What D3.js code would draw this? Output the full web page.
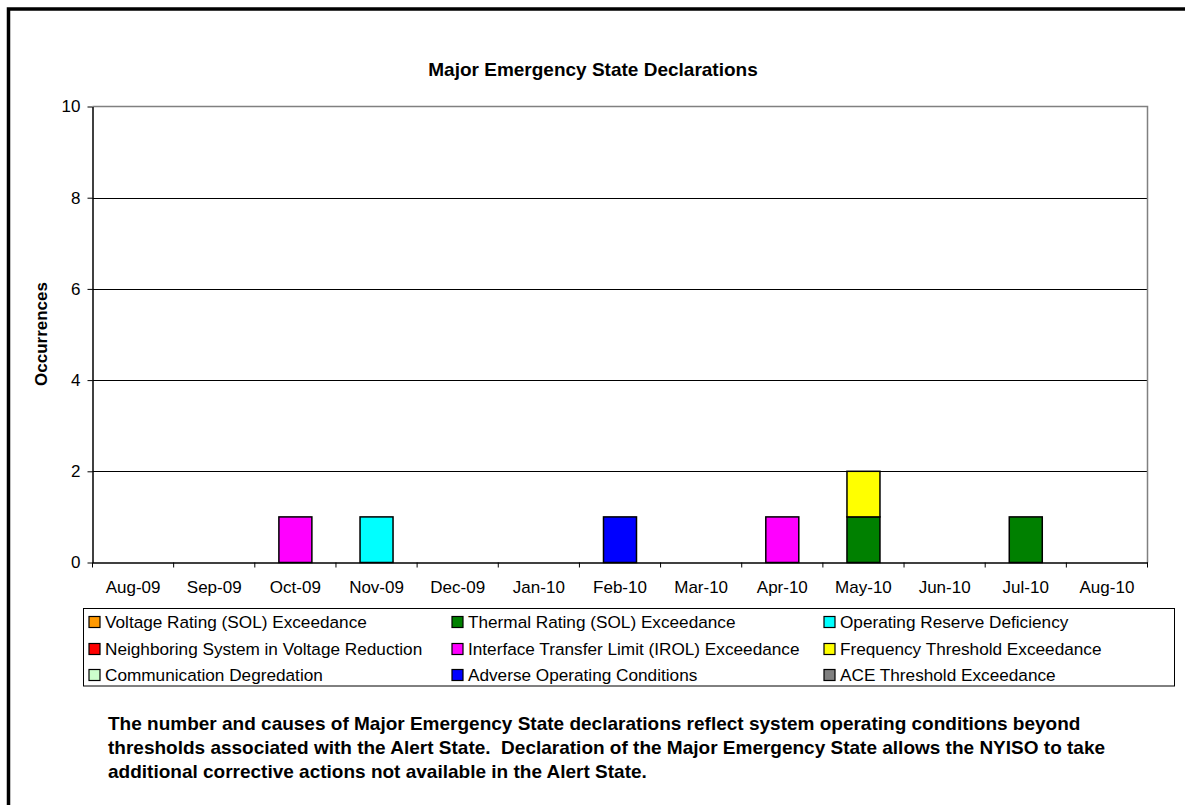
<!DOCTYPE html>
<html>
<head>
<meta charset="utf-8">
<script src="https://cdn.jsdelivr.net/npm/d3@7"></script>
<style>
  body { margin: 0; background: #fff; }
  text { font-family: "Liberation Sans", Arial, sans-serif; }
</style>
</head>
<body>
<div id="chart"></div>
<script>
// months on the x axis
var months = ["Aug-09","Sep-09","Oct-09","Nov-09","Dec-09","Jan-10","Feb-10",
              "Mar-10","Apr-10","May-10","Jun-10","Jul-10","Aug-10"];

// causes, in legend order
var causes = ["Voltage Rating (SOL) Exceedance","Thermal Rating (SOL) Exceedance","Operating Reserve Deficiency",
              "Neighboring System in Voltage Reduction","Interface Transfer Limit (IROL) Exceedance","Frequency Threshold Exceedance",
              "Communication Degredation","Adverse Operating Conditions","ACE Threshold Exceedance"];
var colors = ["#FF9900","#008000","#00FFFF","#FF0000","#FF00FF","#FFFF00","#CCFFCC","#0000FF","#808080"];

// occurrences per month for each cause
var voltage      = [0,0,0,0,0,0,0,0,0,0,0,0,0];
var thermal      = [0,0,0,0,0,0,0,0,0,1,0,1,0];
var opReserve    = [0,0,0,1,0,0,0,0,0,0,0,0,0];
var neighboring  = [0,0,0,0,0,0,0,0,0,0,0,0,0];
var irol         = [0,0,1,0,0,0,0,0,1,0,0,0,0];
var frequency    = [0,0,0,0,0,0,0,0,0,1,0,0,0];
var communication= [0,0,0,0,0,0,0,0,0,0,0,0,0];
var adverse      = [0,0,0,0,0,0,1,0,0,0,0,0,0];
var ace          = [0,0,0,0,0,0,0,0,0,0,0,0,0];
var series = [voltage,thermal,opReserve,neighboring,irol,frequency,communication,adverse,ace];

var yTicks = [0,2,4,6,8,10];

(function(){
  var width = 1185, height = 805;
  var pLeft = 92.5, pRight = 1147.5, pTop = 106.5, pBottom = 562.5;

  var svg = d3.select("#chart").append("svg")
    .attr("width", width)
    .attr("height", height);

  // outer frame
  svg.append("rect")
    .attr("x", 8.5).attr("y", 9)
    .attr("width", width + 20).attr("height", height + 20)
    .attr("fill", "none").attr("stroke", "#000").attr("stroke-width", 3.5);

  svg.append("text")
    .attr("x", 593).attr("y", 76)
    .attr("text-anchor", "middle")
    .style("font-size", "19px").style("font-weight", "bold")
    .text("Major Emergency State Declarations");

  var x = d3.scaleBand().domain(months).range([pLeft, pRight]).paddingInner(0).paddingOuter(0);
  var y = d3.scaleLinear().domain([0, 10]).range([pBottom, pTop]);

  // table for stacking
  var table = months.map(function(m, i){
    var row = {month: m};
    causes.forEach(function(c, j){ row[c] = series[j][i]; });
    return row;
  });
  var stacked = d3.stack().keys(causes)(table);

  // gridlines
  svg.append("g").selectAll("line")
    .data(yTicks.filter(function(d){ return d > 0 && d < 10; }))
    .enter().append("line")
    .attr("x1", pLeft).attr("x2", pRight)
    .attr("y1", function(d){ return Math.round(y(d)) + 0.5; })
    .attr("y2", function(d){ return Math.round(y(d)) + 0.5; })
    .attr("stroke", "#000").attr("stroke-width", 1);

  // plot area border top/right (gray)
  svg.append("path")
    .attr("d", "M" + pLeft + "," + y(10) + "H" + pRight + "V" + y(0))
    .attr("fill", "none").attr("stroke", "#808080").attr("stroke-width", 1.5);

  // bars
  var barW = 33;
  svg.append("g").selectAll("g")
    .data(stacked)
    .enter().append("g")
    .attr("fill", function(d, i){ return colors[i]; })
    .selectAll("rect")
    .data(function(d){ return d.filter(function(p){ return p[1] - p[0] > 0; }); })
    .enter().append("rect")
    .attr("x", function(d){ return x(d.data.month) + x.bandwidth() / 2 - barW / 2; })
    .attr("y", function(d){ return y(d[1]); })
    .attr("width", barW)
    .attr("height", function(d){ return y(d[0]) - y(d[1]); })
    .attr("stroke", "#000").attr("stroke-width", 1.5);

  // y axis
  var yAxis = svg.append("g")
    .attr("transform", "translate(" + pLeft + ",0)")
    .call(d3.axisLeft(y).tickValues(yTicks).tickSize(5).tickPadding(7).tickSizeOuter(0));
  yAxis.select(".domain").attr("stroke", "#000").attr("stroke-width", 1.5);
  yAxis.selectAll("text").style("font-size", "17px").attr("fill", "#000");

  // x axis labels
  var xAxis = svg.append("g")
    .attr("transform", "translate(0," + pBottom + ")")
    .call(d3.axisBottom(x).tickSize(0).tickPadding(18).tickSizeOuter(0));
  xAxis.select(".domain").attr("stroke", "#000").attr("stroke-width", 1.5);
  xAxis.selectAll("text").style("font-size", "17px").attr("fill", "#000");

  // x tick marks at band edges
  svg.append("g").selectAll("line")
    .data(d3.range(months.length + 1))
    .enter().append("line")
    .attr("x1", function(i){ return pLeft + i * x.step(); })
    .attr("x2", function(i){ return pLeft + i * x.step(); })
    .attr("y1", pBottom).attr("y2", pBottom + 5)
    .attr("stroke", "#000").attr("stroke-width", 1);

  svg.append("text")
    .attr("transform", "translate(47,334) rotate(-90)")
    .attr("text-anchor", "middle")
    .style("font-size", "17px").style("font-weight", "bold")
    .text("Occurrences");

  // legend
  var lg = svg.append("g");
  lg.append("rect")
    .attr("x", 83.5).attr("y", 608.5).attr("width", 1091).attr("height", 77.5)
    .attr("fill", "#fff").attr("stroke", "#000").attr("stroke-width", 1);
  var colX = [105, 468, 840], rowY = [622, 649, 675];
  var items = lg.selectAll("g.item")
    .data(causes)
    .enter().append("g")
    .attr("class", "item")
    .attr("transform", function(d, i){ return "translate(" + colX[i % 3] + "," + rowY[Math.floor(i / 3)] + ")"; });
  items.append("rect")
    .attr("x", -16).attr("y", -5.5).attr("width", 11).attr("height", 11)
    .attr("fill", function(d, i){ return colors[i]; })
    .attr("stroke", "#000").attr("stroke-width", 1.2);
  items.append("text")
    .attr("x", 0).attr("dy", "0.35em")
    .style("font-size", "17.2px")
    .text(function(d){ return d; });

  // note under the chart
  var note = ["The number and causes of Major Emergency State declarations reflect system operating conditions beyond",
              "thresholds associated with the Alert State.  Declaration of the Major Emergency State allows the NYISO to take",
              "additional corrective actions not available in the Alert State."];
  svg.append("g").selectAll("text")
    .data(note)
    .enter().append("text")
    .attr("x", 108).attr("y", function(d, i){ return 730 + i * 24; })
    .style("font-size", "19px").style("font-weight", "bold")
    .style("white-space", "pre")
    .text(function(d){ return d; });
})();
</script>
</body>
</html>
